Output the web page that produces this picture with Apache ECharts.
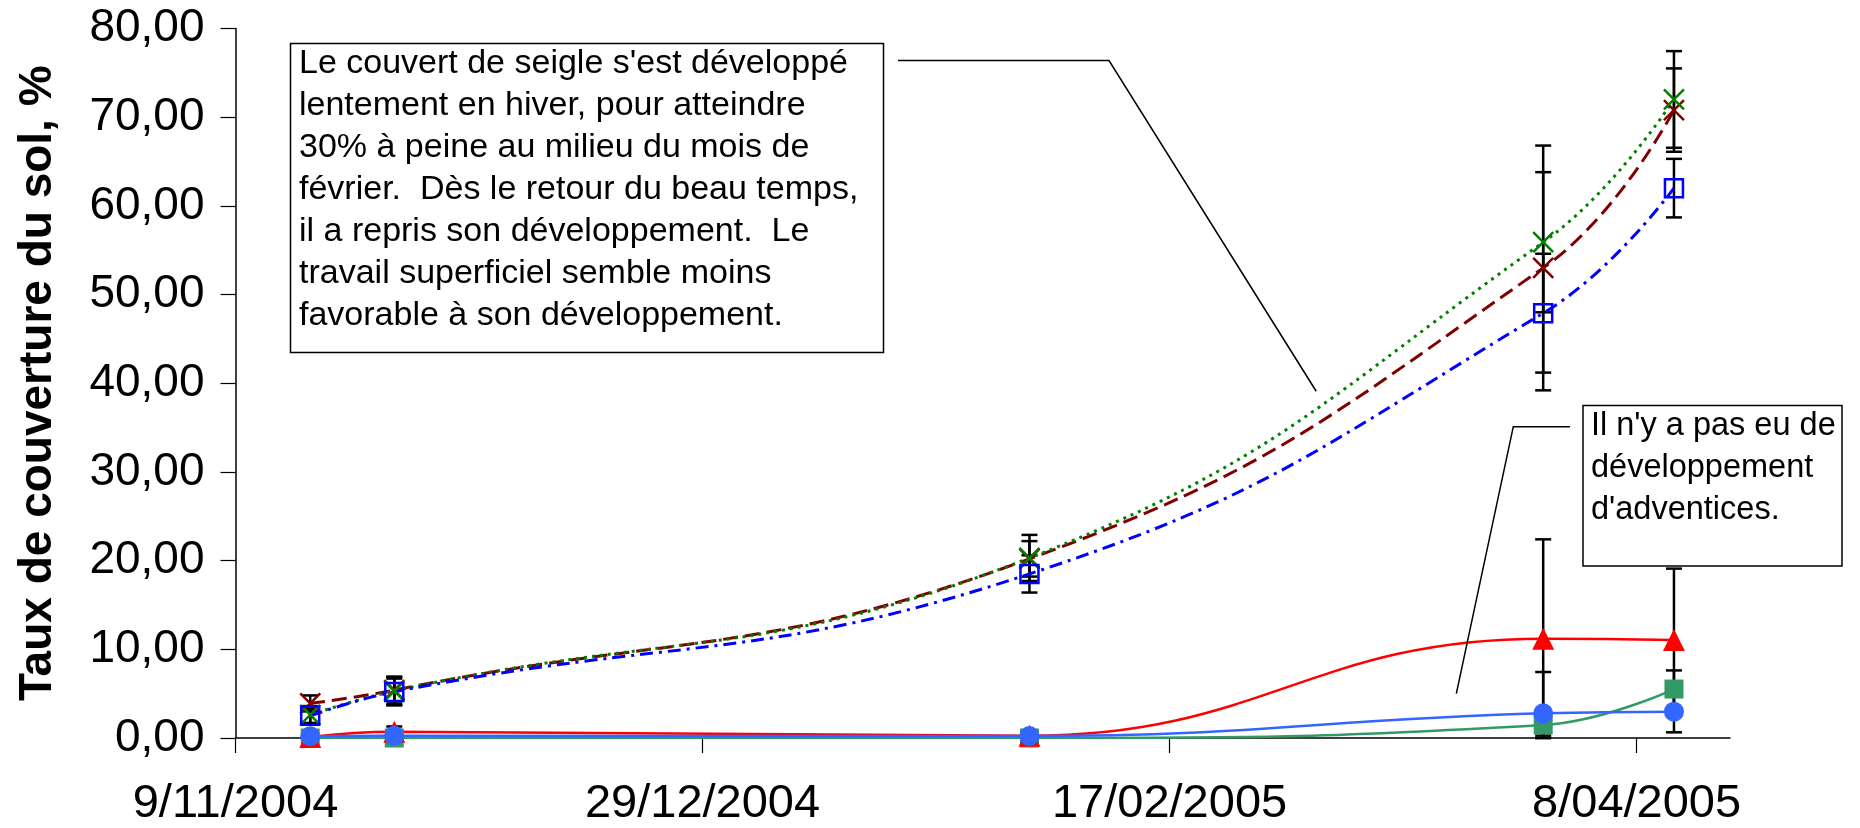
<!DOCTYPE html>
<html>
<head>
<meta charset="utf-8">
<script src="https://cdn.jsdelivr.net/npm/echarts@6/dist/echarts.min.js"></script>
<style>
html,body{margin:0;padding:0;background:#fff;}
#chart{width:1860px;height:828px;}
</style>
</head>
<body>
<div id="chart"></div>
<script>
// ---- data ----
const originDate = '9/11/2004';
const sampleDates = ['17/11/2004', '26/11/2004', '2/02/2005', '29/03/2005', '12/04/2005'];
const xTickLabels = ['9/11/2004', '29/12/2004', '17/02/2005', '8/04/2005'];

// rye cover (three treatments)
const seigleVert = [2.6, 5.3, 20.3, 55.9, 72.0];
const seigleVertErr = [1.0, 1.6, 2.6, 7.9, 5.45];
const seigleBordeaux = [3.9, 5.4, 20.2, 53.0, 70.8];
const seigleBordeauxErr = [0.9, 1.5, 2.0, 13.8, 4.7];
const seigleBleu = [2.5, 5.2, 18.5, 47.9, 62.0];
const seigleBleuErr = [0.8, 1.5, 2.1, 6.7, 3.3];

// weeds (three treatments)
const adventRouge = [0.1, 0.7, 0.25, 11.2, 11.05];
const adventRougeErr = [0.2, 0.6, 0.2, 11.2, 8.05];
const adventBleu = [0.2, 0.25, 0.22, 2.78, 2.97];
const adventBleuErr = [0.1, 0.2, 0.2, 4.66, 2.33];
const adventVert = [0, 0, 0, 1.47, 5.52];
const adventVertErr = [0, 0, 0, 1.2, 2.1];

const note1 = ["Le couvert de seigle s'est développé",
  "lentement en hiver, pour atteindre",
  "30% à peine au milieu du mois de",
  "février.  Dès le retour du beau temps,",
  "il a repris son développement.  Le",
  "travail superficiel semble moins",
  "favorable à son développement."];
const note2 = ["Il n'y a pas eu de", "développement", "d'adventices."];

// ---- helpers ----
function parseDate(s) { const p = s.split('/').map(Number); return Date.UTC(p[2], p[1] - 1, p[0]); }
const DAY = 86400000;
const t0 = parseDate(originDate);
function dayOf(s) { return Math.round((parseDate(s) - t0) / DAY); }
function fmtDay(d) {
  const dt = new Date(t0 + d * DAY);
  const mm = String(dt.getUTCMonth() + 1).padStart(2, '0');
  return dt.getUTCDate() + '/' + mm + '/' + dt.getUTCFullYear();
}
const xs = sampleDates.map(dayOf);
const xTicks = xTickLabels.map(dayOf);
const FONT = "'Liberation Sans', Arial, sans-serif";

function pts(vals) { return vals.map((v, i) => [xs[i], v]); }
function errData(vals, errs) { return vals.map((v, i) => [xs[i], Math.max(0, v - errs[i]), v + errs[i]]); }

function errorSeries(vals, errs) {
  return {
    type: 'custom', z: 2, silent: true,
    data: errData(vals, errs),
    encode: { x: 0, y: [1, 2] },
    renderItem: function (params, api) {
      const x = api.value(0), lo = api.value(1), hi = api.value(2);
      if (hi - lo < 0.05) return null;
      const a = api.coord([x, hi]), b = api.coord([x, lo]);
      const w = 8;
      const st = { stroke: '#000', lineWidth: 2.5 };
      return { type: 'group', children: [
        { type: 'line', shape: { x1: a[0], y1: a[1], x2: b[0], y2: b[1] }, style: st },
        { type: 'line', shape: { x1: a[0] - w, y1: a[1], x2: a[0] + w, y2: a[1] }, style: st },
        { type: 'line', shape: { x1: b[0] - w, y1: b[1], x2: b[0] + w, y2: b[1] }, style: st }
      ]};
    }
  };
}

const XSYM = 'path://M0,0L20,20M20,0L0,20';
function lineSeries(name, vals, color, dash, symbol, size, filled, width) {
  return {
    name: name, type: 'line', z: 3, smooth: 0.45,
    data: pts(vals),
    symbol: symbol, symbolSize: size,
    lineStyle: { color: color, width: width, type: dash },
    itemStyle: filled ? { color: color, borderColor: color, borderWidth: 0 }
                      : { color: 'rgba(0,0,0,0)', borderColor: color, borderWidth: 2.5 },
    emphasis: { disabled: true }
  };
}

const chart = echarts.init(document.getElementById('chart'), null, { renderer: 'canvas' });

const option = {
  animation: false,
  backgroundColor: '#fff',
  grid: { left: 235.5, right: 130, top: 28.5, bottom: 90, containLabel: false },
  xAxis: {
    type: 'value', min: 0, max: 160, interval: 50,
    splitLine: { show: false },
    axisLine: { show: true, onZero: false, lineStyle: { color: '#000', width: 1.5 } },
    axisTick: { show: true, inside: false, length: 15, customValues: xTicks, lineStyle: { color: '#000', width: 1.2 } },
    axisLabel: { customValues: xTicks, formatter: fmtDay, fontFamily: FONT, fontSize: 47, color: '#000', margin: 43 }
  },
  yAxis: {
    type: 'value', min: 0, max: 80, interval: 10,
    name: 'Taux de couverture du sol, %',
    nameLocation: 'middle', nameGap: 174,
    nameTextStyle: { fontFamily: FONT, fontSize: 46, fontWeight: 'bold', color: '#000' },
    splitLine: { show: false },
    axisLine: { show: true, lineStyle: { color: '#000', width: 1.5 } },
    axisTick: { show: true, inside: false, length: 15, lineStyle: { color: '#000', width: 1.2 } },
    axisLabel: { formatter: v => v.toFixed(2).replace('.', ','), fontFamily: FONT, fontSize: 46, color: '#000', margin: 31 }
  },
  series: [
    errorSeries(seigleVert, seigleVertErr),
    errorSeries(seigleBordeaux, seigleBordeauxErr),
    errorSeries(seigleBleu, seigleBleuErr),
    errorSeries(adventRouge, adventRougeErr),
    errorSeries(adventBleu, adventBleuErr),
    errorSeries(adventVert, adventVertErr),
    lineSeries('Seigle A', seigleBordeaux, '#800000', [15, 7], XSYM, 20, false, 3),
    lineSeries('Seigle B', seigleVert, '#008000', [3, 5], XSYM, 20, false, 3),
    lineSeries('Seigle C', seigleBleu, '#0000ff', [13, 6, 3, 6], 'rect', 18, false, 3),
    lineSeries('Adventices A', adventVert, '#339966', 'solid', 'rect', 19, true, 2.5),
    lineSeries('Adventices B', adventRouge, '#ff0000', 'solid', 'triangle', 22, true, 2.5),
    lineSeries('Adventices C', adventBleu, '#3366ff', 'solid', 'circle', 20, true, 2.5)
  ]
};
chart.setOption(option);

// ---- annotations (text boxes with callout lines) ----
const end1 = chart.convertToPixel({ gridIndex: 0 }, [115.7, 39.1]);
const end2 = chart.convertToPixel({ gridIndex: 0 }, [130.7, 5.0]);
chart.setOption({
  graphic: [
    { type: 'polyline', z: 10, shape: { points: [[898, 60.5], [1109, 60.5], end1] }, style: { stroke: '#000', lineWidth: 1.5, fill: null } },
    { type: 'polyline', z: 10, shape: { points: [[1570, 426.7], [1513.3, 426.7], end2] }, style: { stroke: '#000', lineWidth: 1.5, fill: null } },
    { type: 'rect', z: 10, shape: { x: 290.5, y: 43.5, width: 593, height: 309 }, style: { fill: '#fff', stroke: '#000', lineWidth: 1.5 } },
    { type: 'text', z: 11, x: 299, y: 42.5, style: { text: note1.join('\n'), font: '34px ' + FONT, lineHeight: 42, fill: '#000', textAlign: 'left', textVerticalAlign: 'top' } },
    { type: 'rect', z: 10, shape: { x: 1583, y: 405.5, width: 259, height: 160.5 }, style: { fill: '#fff', stroke: '#000', lineWidth: 1.5 } },
    { type: 'text', z: 11, x: 1591, y: 405, style: { text: note2.join('\n'), font: '32.5px ' + FONT, lineHeight: 42, fill: '#000', textAlign: 'left', textVerticalAlign: 'top' } }
  ]
});
</script>
</body>
</html>
